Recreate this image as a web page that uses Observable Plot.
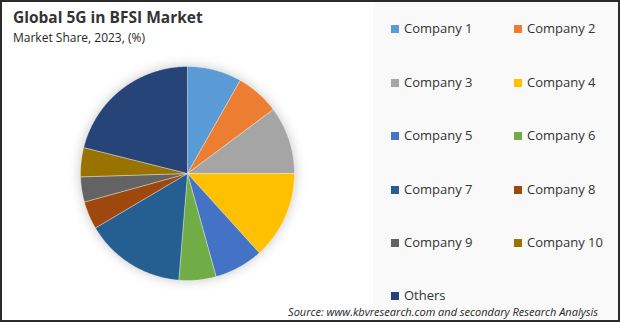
<!DOCTYPE html>
<html>
<head>
<meta charset="utf-8">
<script src="https://cdn.jsdelivr.net/npm/d3@7"></script>
<script src="https://cdn.jsdelivr.net/npm/@observablehq/plot@0.6"></script>
<style>
  html, body { margin: 0; padding: 0; background: #fff; }
  #frame {
    position: relative; width: 620px; height: 322px; box-sizing: border-box;
    border: 2px solid #2b2b2b; background: #fff; overflow: hidden;
    font-family: "Open Sans", "Noto Sans", sans-serif; color: #262626;
  }
  #panel { position: absolute; left: 371px; top: 0; right: 0; bottom: 0; background: #f9f9f9; }
  #title { position: absolute; left: 11px; top: 4px; font-size: 15.5px; font-weight: 700; color: #333; white-space: nowrap; }
  #subtitle { position: absolute; left: 11px; top: 27px; font-size: 12px; color: #262626; white-space: nowrap; }
  #pie { position: absolute; left: 67px; top: 53px; filter: drop-shadow(0 0 6px rgba(0,0,0,0.22)); }
  .lg { position: absolute; font-size: 13px; color: #333; white-space: nowrap; line-height: 16px; }
  .lg span.sw { display: inline-block; width: 8px; height: 8px; margin-right: 5px; vertical-align: 0px; }
  #source { position: absolute; right: 20px; top: 303px; font-size: 11px; line-height: 14px; font-style: italic; color: #262626; white-space: nowrap; }
</style>
</head>
<body>
<div id="frame">
  <div id="panel"></div>
  <div id="title">Global 5G in BFSI Market</div>
  <div id="subtitle">Market Share, 2023, (%)</div>
  <div id="pie"></div>
  <div id="legend"></div>
  <div id="source">Source: www.kbvresearch.com and secondary Research Analysis</div>
</div>
<script>
const companies = ["Company 1","Company 2","Company 3","Company 4","Company 5","Company 6","Company 7","Company 8","Company 9","Company 10","Others"];
const shares = [8.2, 6.6, 10.2, 13.3, 7.4, 5.6, 15.2, 4.2, 3.8, 4.4, 21.1];
const colors = ["#5B9BD5","#ED7D31","#A5A5A5","#FFC000","#4472C4","#70AD47","#255E91","#9E480E","#636363","#997300","#264478"];

// Build slice outlines from the pie layout (angles clockwise from 12 o'clock)
const arcs = d3.pie().sort(null).value(d => d.share)(companies.map((c, i) => ({company: c, share: shares[i]})));
const pts = [];
for (const a of arcs) {
  const n = Math.max(2, Math.ceil((a.endAngle - a.startAngle) / 0.01));
  pts.push({company: a.data.company, x: 0, y: 0});
  for (let k = 0; k <= n; k++) {
    const t = a.startAngle + (a.endAngle - a.startAngle) * k / n;
    pts.push({company: a.data.company, x: Math.sin(t), y: Math.cos(t)});
  }
  pts.push({company: a.data.company, x: 0, y: 0});
}

const size = 236, m = 11;
const chart = Plot.plot({
  width: size, height: size,
  margin: m,
  x: {domain: [-1, 1], axis: null},
  y: {domain: [-1, 1], axis: null},
  color: {domain: companies, range: colors},
  marks: [
    Plot.line(pts, {x: "x", y: "y", z: "company", fill: "company", stroke: "#ffffff", strokeWidth: 0.6, strokeOpacity: 0.6, curve: "linear"})
  ]
});
chart.style.background = "transparent";
document.getElementById("pie").appendChild(chart);

// Legend (2 columns)
const legend = document.getElementById("legend");
const rowY = [19, 73, 126, 180, 233, 286];
companies.forEach((c, i) => {
  const col = i === companies.length - 1 ? 0 : i % 2;
  const row = i === companies.length - 1 ? 5 : Math.floor(i / 2);
  const div = document.createElement("div");
  div.className = "lg";
  div.style.left = (col === 0 ? 389 : 512) + "px";
  div.style.top = (rowY[row] - 1) + "px";
  const sw = document.createElement("span");
  sw.className = "sw";
  sw.style.background = colors[i];
  div.appendChild(sw);
  div.appendChild(document.createTextNode(c));
  legend.appendChild(div);
});
</script>
</body>
</html>
